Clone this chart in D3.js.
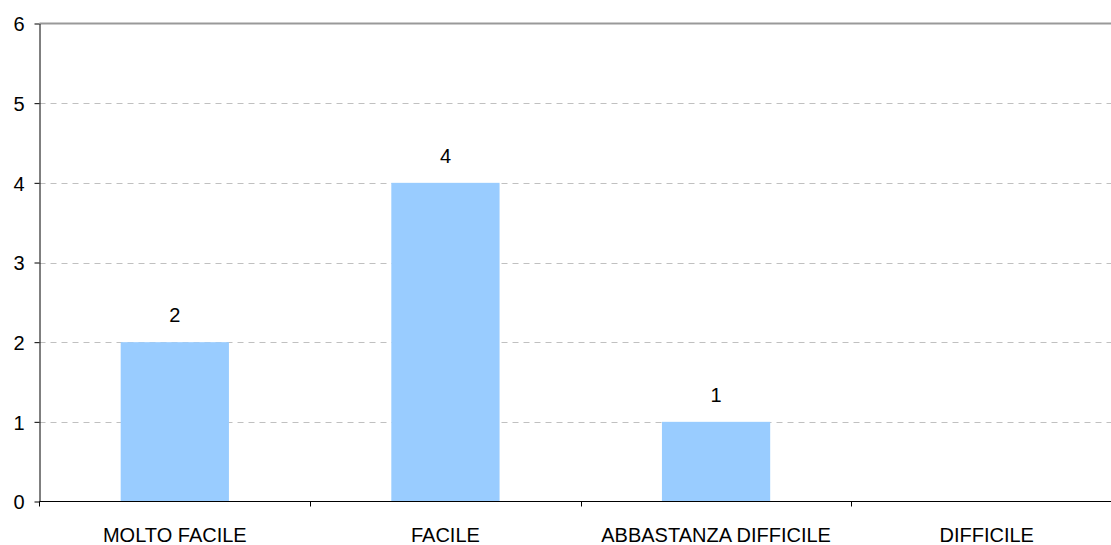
<!DOCTYPE html>
<head>
<meta charset="utf-8">
<style>
body { margin: 0; background: #fff; }
.axis text { font: 20px "Liberation Sans", Arial, sans-serif; fill: #000; }
.axis path, .axis line { stroke: #000; }
.grid line { stroke: #c0c0c0; stroke-dasharray: 6,5; }
.bar { fill: #99ccff; }
.lbl { font: 20px "Liberation Sans", Arial, sans-serif; fill: #000; }
</style>
</head>
<body>
<svg width="1111" height="545"></svg>
<script src="https://cdn.jsdelivr.net/npm/d3@7"></script>
<script>
var categories = ["MOLTO FACILE", "FACILE", "ABBASTANZA DIFFICILE", "DIFFICILE"];
var values = [2, 4, 1, null];
var yTicks = [0, 1, 2, 3, 4, 5, 6];

var svg = d3.select("svg"),
    plotL = 39.5, plotR = 1122, plotT = 23.5, plotB = 501.5;

var x = d3.scaleBand().domain(categories).range([plotL, plotR]).paddingInner(0.6).paddingOuter(0.3);
var xb = d3.scaleBand().domain(categories).range([plotL, plotR]);
var y = d3.scaleLinear().domain([0, 6]).range([plotB, plotT]);

// grid
svg.append("g").attr("class", "grid")
  .selectAll("line").data(yTicks.filter(d => d > 0 && d < 6)).enter().append("line")
    .attr("x1", plotL).attr("x2", 1111)
    .attr("y1", d => Math.round(y(d)) + 0.5).attr("y2", d => Math.round(y(d)) + 0.5);
svg.append("line")
  .attr("x1", plotL).attr("x2", 1111).attr("y1", y(6)).attr("y2", y(6))
  .attr("stroke", "#999").attr("stroke-width", 2);

// bars
var data = categories.map((c, i) => ({c: c, v: values[i]})).filter(d => d.v != null);
svg.selectAll(".bar").data(data).enter().append("rect")
  .attr("class", "bar")
  .attr("x", d => x(d.c))
  .attr("y", d => y(d.v))
  .attr("width", x.bandwidth())
  .attr("height", d => y(0) - y(d.v));

svg.selectAll(".lbl").data(data).enter().append("text")
  .attr("class", "lbl")
  .attr("x", d => x(d.c) + x.bandwidth() / 2)
  .attr("y", d => y(d.v) - 20)
  .attr("text-anchor", "middle")
  .text(d => d.v);

// y axis
svg.append("g").attr("class", "axis")
  .attr("transform", "translate(" + plotL + ",0)")
  .call(d3.axisLeft(y).tickValues(yTicks).tickFormat(d3.format("d"))
    .tickSize(5).tickSizeOuter(0).tickPadding(10))
  .call(g => g.selectAll("text").attr("dy", "0.36em"));

// x axis
var xa = svg.append("g").attr("class", "axis")
  .attr("transform", "translate(0," + plotB + ")");
xa.append("line").attr("x1", plotL).attr("x2", 1111).attr("stroke", "#000");
xa.selectAll(".tk").data(categories.slice(1)).enter().append("line")
  .attr("x1", d => Math.round(xb(d)) + 0.5).attr("x2", d => Math.round(xb(d)) + 0.5)
  .attr("y1", 0).attr("y2", 5).attr("stroke", "#000");
xa.append("line").attr("x1", plotL).attr("x2", plotL).attr("y1", 0).attr("y2", 5).attr("stroke", "#000");
xa.selectAll("text").data(categories).enter().append("text")
  .attr("x", d => xb(d) + xb.bandwidth() / 2)
  .attr("y", 40)
  .attr("text-anchor", "middle")
  .text(d => d);
</script>
</body>
